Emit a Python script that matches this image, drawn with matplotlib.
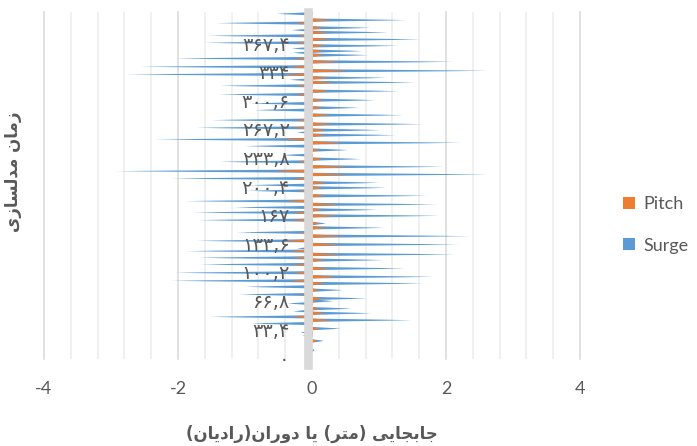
import matplotlib
matplotlib.use("Agg")
import matplotlib.pyplot as plt
from matplotlib.patches import Patch

plt.rcParams["axes.unicode_minus"] = False

# برچسب‌های محور زمان (فارسی)
label_times = [0, 33.4, 66.8, 100.2, 133.6, 167, 200.4, 233.8, 267.2, 300.6, 334, 367.4]
label_text = ["۰", "۳۳,۴", "۶۶,۸", "۱۰۰,۲", "۱۳۳,۶", "۱۶۷", "۲۰۰,۴", "۲۳۳,۸",
              "۲۶۷,۲", "۳۰۰,۶", "۳۳۴", "۳۶۷,۴"]

x_ticks = [-4, -2, 0, 2, 4]
x_tick_text = ["-4", "-2", "0", "2", "4"]

# peaks of the oscillation
spike_time = [9.2, 20.1, 26.7, 29.9, 34.5, 40.4, 44.3, 48.2, 52.4, 54.8,
              57.8, 63.8, 66.6, 69.7, 74.3, 79.4, 83.3, 87.2, 90.3, 95.0,
              99.7, 104.7, 109.4, 114.5, 117.2, 121.1, 125.0, 128.1, 132.7, 137.0,
              142.5, 146.8, 152.2, 157.3, 161.2, 166.2, 170.1, 173.2, 176.0, 179.5,
              183.4, 189.6, 195.4, 198.9, 202.0, 204.8, 209.8, 214.5, 218.4, 223.5,
              229.3, 232.5, 237.1, 243.0, 247.6, 251.5, 255.4, 260.4, 263.6, 266.3,
              269.0, 273.3, 278.0, 283.8, 289.7, 292.4, 297.4, 301.3, 307.9, 311.8,
              318.1, 322.0, 325.1, 327.4, 331.3, 335.6, 340.3, 346.1, 350.0, 353.9,
              356.6, 358.6, 361.7, 364.8, 368.3, 372.2, 376.5, 380.4, 383.1, 385.8,
              391.3, 394.8, 402.2]
surge = [0.03, 0.17, -0.15, -0.18, 0.42, -0.93, 1.48, -1.54, 0.88, -0.29,
         0.58, -0.37, 0.31, 0.80, -1.10, 0.45, -1.00, 1.65, -2.11, 1.81,
         -2.06, 1.38, -1.68, 1.05, -1.70, 2.14, -1.89, -0.23, 2.19, -1.73,
         2.35, -1.13, 1.07, 0.20, -1.70, 1.89, -1.78, 0.97, -1.16, 1.86,
         -1.89, 1.70, -0.97, 1.10, -0.94, 0.99, -2.11, 2.63, -2.96, 1.97,
         -1.38, 0.72, -0.45, 0.53, -1.00, 2.22, -2.36, 1.24, -0.23, 1.02,
         -1.73, 1.65, -1.51, 1.35, -0.86, 0.69, -0.94, 0.94, -1.40, 1.29,
         -1.38, 1.54, -0.34, 1.10, -2.79, 2.63, -2.57, 2.11, -2.06, 0.83,
         -0.29, 0.75, -0.31, 1.27, -1.61, 1.62, -1.56, 1.13, -0.31, 0.86,
         -1.43, 1.40, -0.53]
pitch = [0.01, 0.07, -0.03, -0.03, 0.10, -0.15, 0.28, -0.31, 0.18, -0.05,
         0.10, -0.05, 0.05, 0.15, -0.18, 0.10, -0.10, 0.20, -0.34, 0.37,
         -0.29, 0.26, -0.29, 0.20, -0.30, 0.42, -0.34, -0.04, 0.42, -0.45,
         0.48, -0.20, 0.20, 0.10, -0.34, 0.37, -0.29, 0.15, -0.15, 0.39,
         -0.40, 0.20, -0.20, 0.15, -0.10, 0.20, -0.29, 0.53, -0.59, 0.53,
         -0.23, 0.15, -0.08, 0.10, -0.12, 0.45, -0.45, 0.20, -0.05, 0.20,
         -0.31, 0.31, -0.26, 0.26, -0.10, 0.15, -0.15, 0.18, -0.26, 0.26,
         -0.26, 0.31, -0.05, 0.26, -0.45, 0.53, -0.35, 0.42, -0.28, 0.17,
         -0.05, 0.15, -0.05, 0.20, -0.25, 0.26, -0.22, 0.23, -0.05, 0.17,
         -0.25, 0.28, -0.08]

blue = "#5B9BD5"
orange = "#ED7D31"
text_gray = "#595959"
half = 1.9  # half thickness of one spike, in time units


def spike(ax, t, v, color, z):
    # needle shaped bar: wide at the axis, thin towards the tip
    ys = [t - half, t - 0.3 * half, t, t + 0.3 * half, t + half]
    xs = [0, 0.75 * v, v, 0.75 * v, 0]
    ax.fill_betweenx(ys, 0, xs, color=color, lw=0, zorder=z)


fig = plt.figure(figsize=(6.97, 4.46), dpi=100)
ax = fig.add_axes([44 / 697, 1 - 359 / 446, 536 / 697, 347 / 446])
ax.set_xlim(-4, 4)
ax.set_ylim(-1.6, 403.7)

# gridlines
for i in range(-10, 11):
    g = i * 0.4
    if i % 5 == 0:
        if i != 0:
            ax.axvline(g, color="#D9D9D9", lw=1.1, zorder=0.5, clip_on=False)
    else:
        ax.axvline(g, color="#EFEFEF", lw=1.3, zorder=0.4)

for t, s in zip(spike_time, surge):
    spike(ax, t, s, blue, 1)
for t, p in zip(spike_time, pitch):
    spike(ax, t, p, orange, 1.1)

for side in ["top", "right", "bottom"]:
    ax.spines[side].set_visible(False)
ax.spines["left"].set_position(("data", -0.062))
ax.spines["left"].set_linewidth(6.2)
ax.spines["left"].set_color("#D9D9D9")
ax.spines["left"].set_zorder(3)
ax.spines["left"].set_bounds(-9, 403.7)

ax.set_yticks(label_times)
ax.set_yticklabels(label_text, fontsize=14, color=text_gray, family="DejaVu Sans")
ax.tick_params(axis="y", length=0, pad=13)
ax.set_xticks(x_ticks)
ax.set_xticklabels(x_tick_text, fontsize=13, color=text_gray, family="Lato")
ax.tick_params(axis="x", length=0, pad=16)

# جابجایی (متر) یا دوران(رادیان)  -- shaped glyphs in visual order
x_title = ("(\ufee5\ufe8e\ufbfe\ufea9\ufe8d\ufead)\ufee5\ufe8d\ufead\ufeed\ufea9 "
           "\ufe8e\ufbfe (\ufeae\ufe98\ufee3) \ufbfd\ufbfe\ufe8e\ufea0\ufe91\ufe8e\ufe9f")
# زمان مدلسازی
y_title = "\ufbfc\ufeaf\ufe8e\ufeb4\ufedf\ufeaa\ufee3 \ufee5\ufe8e\ufee3\ufeaf"

fig.text(312 / 697, 1 - 434 / 446, x_title, ha="center", va="center",
         fontsize=12, fontweight="bold", color=text_gray, family="DejaVu Sans")
fig.text(13 / 697, 1 - 172 / 446, y_title, ha="center", va="center", rotation=90,
         fontsize=12, fontweight="bold", color=text_gray, family="DejaVu Sans")

handles = [Patch(facecolor=orange, edgecolor="none"), Patch(facecolor=blue, edgecolor="none")]
fig.legend(handles, ["Pitch", "Surge"], loc="center left",
           bbox_to_anchor=(623 / 697, 1 - 225 / 446), frameon=False,
           borderpad=0, borderaxespad=0, handlelength=0.65, handleheight=0.65,
           handletextpad=0.5, labelspacing=1.4,
           prop={"family": "Lato", "size": 13}, labelcolor=text_gray)

fig.savefig("out.png", dpi=100)
